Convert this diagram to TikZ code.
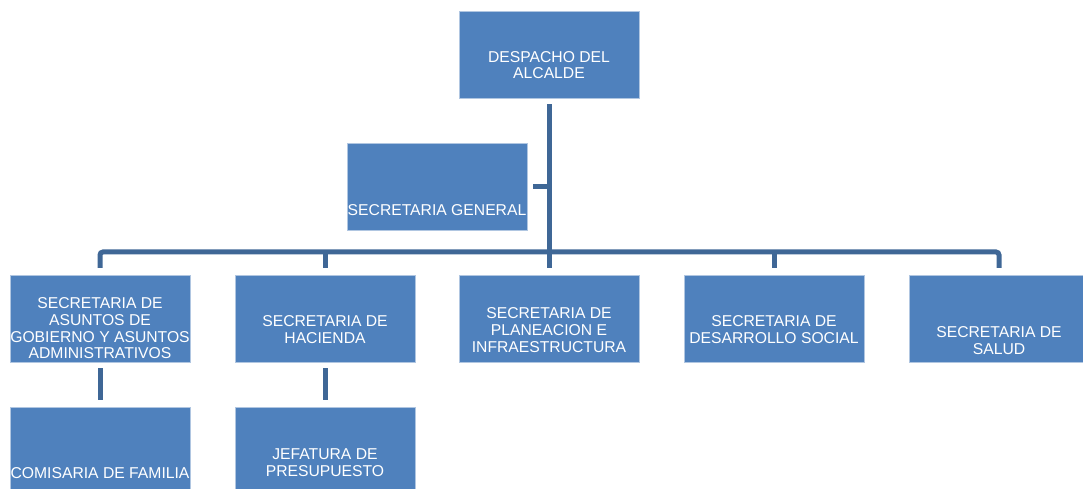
\documentclass[tikz,border=0pt]{standalone}
\usepackage{fontspec}
\setmainfont{Liberation Sans}
\definecolor{unitblue}{HTML}{4F81BD}
\definecolor{linkblue}{HTML}{3F6796}
\begin{document}
\begin{tikzpicture}[
    x=0.03cm, y=-0.03cm,
    unit/.style={rectangle, draw=white!55!unitblue, line width=0.4pt, fill=unitblue, minimum width=5.4cm, minimum height=2.61cm, inner sep=0pt},
    caption/.style={text=white, align=center, inner sep=0pt, font=\fontsize{13.4}{14.2}\selectfont},
    link/.style={draw=linkblue, line width=0.15cm},
    branch/.style={link, rounded corners=0.09cm}
]
\useasboundingbox (0,0) rectangle (1083,489);
% Top level
\node[unit] (alcalde) at (549,54.5) {};
\node[caption] (alcalde-t) at (549,65) {DESPACHO DEL\\ALCALDE};
% Staff unit
\node[unit] (general) at (437,186.5) {};
\node[caption] (general-t) at (437,210) {SECRETARIA GENERAL};
% Secretaries
\node[unit] (gobierno) at (100,318.5) {};
\node[caption] (gobierno-t) at (100,328.5) {SECRETARIA DE\\ASUNTOS DE\\GOBIERNO Y ASUNTOS\\ADMINISTRATIVOS};
\node[unit] (hacienda) at (325,318.5) {};
\node[caption] (hacienda-t) at (325,329.5) {SECRETARIA DE\\HACIENDA};
\node[unit] (planeacion) at (549,318.5) {};
\node[caption] (planeacion-t) at (549,330) {SECRETARIA DE\\PLANEACION E\\INFRAESTRUCTURA};
\node[unit] (desarrollo) at (774,318.5) {};
\node[caption] (desarrollo-t) at (774,329.5) {SECRETARIA DE\\DESARROLLO SOCIAL};
\node[unit] (salud) at (999,318.5) {};
\node[caption] (salud-t) at (999,340.5) {SECRETARIA DE\\SALUD};
% Lower units
\node[unit] (comisaria) at (100,450.5) {};
\node[caption] (comisaria-t) at (100,473) {COMISARIA DE FAMILIA};
\node[unit] (jefatura) at (325,450.5) {};
\node[caption] (jefatura-t) at (325,462.5) {JEFATURA DE\\PRESUPUESTO};

% Connectors
\coordinate (bar) at (549,252);
\draw[link, shorten <=0.18cm, shorten >=0.21cm] (alcalde.south) -- (planeacion.north);
\draw[link, shorten <=0.18cm] (general.east) -- (general.east -| alcalde.south);
\draw[branch, shorten <=0.21cm, shorten >=0.21cm] (gobierno.north) |- (bar) -| (salud.north);
\draw[link, shorten >=0.21cm] (hacienda.north |- bar) -- (hacienda.north);
\draw[link, shorten >=0.21cm] (desarrollo.north |- bar) -- (desarrollo.north);
\draw[link, shorten <=0.18cm, shorten >=0.21cm] (gobierno.south) -- (comisaria.north);
\draw[link, shorten <=0.18cm, shorten >=0.21cm] (hacienda.south) -- (jefatura.north);
\end{tikzpicture}
\end{document}
